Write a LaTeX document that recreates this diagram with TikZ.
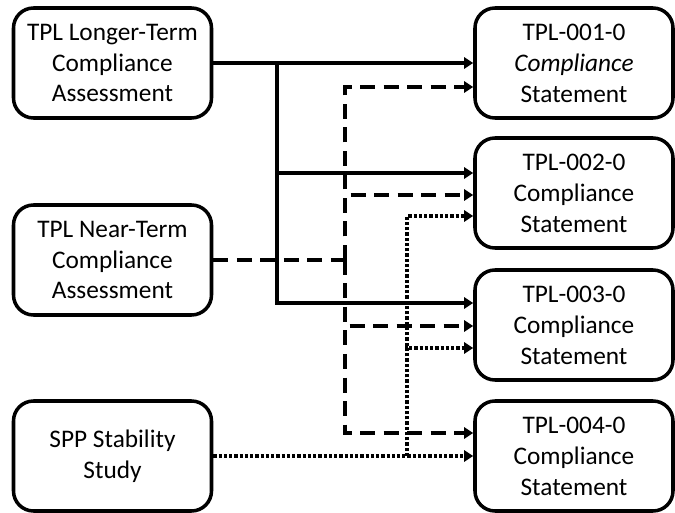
\documentclass[tikz,border=0pt]{standalone}
\usepackage{fontspec}
\setmainfont{Carlito}
\usetikzlibrary{arrows.meta,positioning,calc}

\begin{document}
\begin{tikzpicture}[font=\fontsize{14.4}{17.6}\selectfont,
  box/.style={draw,line width=2pt,rounded corners=0.4cm,minimum width=3.96cm,minimum height=2.2cm,align=center,inner sep=0pt},
  solidline/.style={line width=2.2pt},
  dashline/.style={line width=2.6pt,dash pattern=on 0.3cm off 0.17cm},
  dotline/.style={line width=2.1pt,dash pattern=on 0.065cm off 0.04cm},
  >={Triangle[length=0.18cm,width=0.22cm]}]
\useasboundingbox (0,0) rectangle (13.5,10.24);
\node[box] (ltc) at (2.25,8.98) {TPL Longer-Term\\Compliance\\Assessment};
\node[box] (ntc) at (2.25,5.04) {TPL Near-Term\\Compliance\\Assessment};
\node[box] (sps) at (2.25,1.12) {SPP Stability\\Study};
\node[box] (tpl1) at (11.48,8.98) {TPL-001-0\\\textit{Compliance}\\Statement};
\node[box] (tpl2) at (11.48,6.38) {TPL-002-0\\Compliance\\Statement};
\node[box] (tpl3) at (11.48,3.74) {TPL-003-0\\Compliance\\Statement};
\node[box] (tpl4) at (11.48,1.12) {TPL-004-0\\Compliance\\Statement};
\coordinate (sbus) at (5.54,0);
\coordinate (dbus) at (6.9,0);
\coordinate (pbus) at (8.14,0);
\draw[solidline,->] (ltc.east) -- (tpl1.west);
\draw[solidline,->] (ltc.east -| sbus) |- ([yshift=0.4cm]tpl2.west);
\draw[solidline,->] (ltc.east -| sbus) |- ([yshift=0.44cm]tpl3.west);
\draw[dashline] (ntc.east) -- (ntc.east -| dbus);
\draw[dashline,->] (ntc.east -| dbus) |- ([yshift=-0.48cm]tpl1.west);
\draw[dashline,->] (ntc.east -| dbus) |- ([yshift=-0.04cm]tpl2.west);
\draw[dashline,->] (ntc.east -| dbus) |- ([yshift=-0.02cm]tpl3.west);
\draw[dashline,->] (ntc.east -| dbus) |- ([yshift=0.46cm]tpl4.west);
\draw[dotline,->] (sps.east) -- (tpl4.west);
\draw[dotline,->] (sps.east -| pbus) |- ([yshift=-0.46cm]tpl2.west);
\draw[dotline,->] (sps.east -| pbus) |- ([yshift=-0.46cm]tpl3.west);
\end{tikzpicture}
\end{document}
